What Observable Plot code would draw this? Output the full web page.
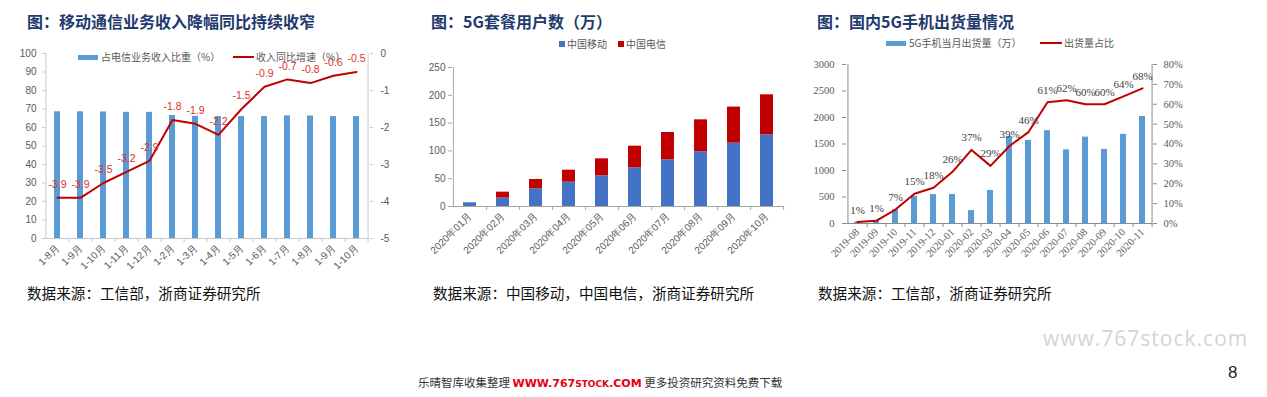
<!DOCTYPE html>
<html><head><meta charset="utf-8">
<script src="https://cdn.jsdelivr.net/npm/d3@7"></script>
<script src="https://cdn.jsdelivr.net/npm/@observablehq/plot@0.6"></script>
<style>
body{margin:0;background:#fff;}
#page{position:relative;width:1267px;height:397px;overflow:hidden;font-family:"Noto Sans CJK SC",sans-serif;background:#fff;}
.abs{position:absolute;white-space:nowrap;line-height:1;}
.title{font-size:16px;font-weight:bold;color:#1F3A6E;}
.src{font-size:14.6px;color:#111;}
.leg{font-size:10px;color:#595959;}
.chart{position:absolute;}
.chart svg{overflow:visible;}
</style></head><body><div id="page"></div>
<script>
// ---------- Chart 1: 移动通信业务收入 ----------
const c1Months = ["1-8月","1-9月","1-10月","1-11月","1-12月","1-2月","1-3月","1-4月","1-5月","1-6月","1-7月","1-8月","1-9月","1-10月"];
const c1Share = [68.5,68.5,68.4,68.2,68.2,66.5,66.0,65.9,65.9,65.9,66.3,66.2,65.9,65.9];
const c1Growth = [-3.9,-3.9,-3.5,-3.2,-2.9,-1.8,-1.9,-2.2,-1.5,-0.9,-0.7,-0.8,-0.6,-0.5];
const c1LeftTicks = [0,10,20,30,40,50,60,70,80,90,100];
const c1RightTicks = [-5,-4,-3,-2,-1,0];
const c1ShareName = "占电信业务收入比重（%）";
const c1GrowthName = "收入同比增速（%）";

// ---------- Chart 2: 5G套餐用户数 ----------
const c2Months = ["2020年01月","2020年02月","2020年03月","2020年04月","2020年05月","2020年06月","2020年07月","2020年08月","2020年09月","2020年10月"];
const c2Mobile = [6.7,15.1,31.8,43.8,55.2,69.5,83.9,98.3,113.9,128.9];
const c2Telecom = [0,10.7,16.8,21.5,30.5,39.0,49.2,57.6,64.9,72.0];
const c2Ticks = [0,50,100,150,200,250];
const c2Series = ["中国移动","中国电信"];

// ---------- Chart 3: 国内5G手机出货量 ----------
const c3Months = ["2019-08","2019-09","2019-10","2019-11","2019-12","2020-01","2020-02","2020-03","2020-04","2020-05","2020-06","2020-07","2020-08","2020-09","2020-10","2020-11"];
const c3Ship = [25,60,260,512,545,546,243,625,1643,1569,1751,1390,1630,1398,1682,2020];
const c3Share = [0.7,1.4,7,15,18,26,37,29,39,46,61,62,60,60,64,68];
const c3LeftTicks = [0,500,1000,1500,2000,2500,3000];
const c3RightTicks = [0,10,20,30,40,50,60,70,80];
const c3ShipName = "5G手机当月出货量（万）";
const c3ShareName = "出货量占比";

const page = document.getElementById("page");
function addDiv(cls, html, left, top, extra) {
  const d = document.createElement("div");
  d.className = "abs " + cls;
  d.innerHTML = html;
  d.style.left = left + "px"; d.style.top = top + "px";
  if (extra) Object.assign(d.style, extra);
  page.appendChild(d);
  return d;
}
function addChart(svg, left, top) {
  const d = document.createElement("div");
  d.className = "chart";
  d.style.left = left + "px"; d.style.top = top + "px";
  d.appendChild(svg);
  page.appendChild(d);
}
function swatch(left, top, w, h, color) {
  const d = document.createElement("div");
  d.className = "abs";
  Object.assign(d.style, {left: left + "px", top: top + "px", width: w + "px", height: h + "px", background: color});
  page.appendChild(d);
}

// ---------------- Chart 1 ----------------
(function(){
  const W = 420, H = 260, ml = 45, mr = 51, mt = 13, mb = 62;
  const n = c1Months.length, step = (W - ml - mr) / n;
  const keys = c1Months.map((d, i) => i);
  const rows = keys.map(i => ({i, share: c1Share[i], growth: c1Growth[i], g: (c1Growth[i] + 5) * 20}));
  const axisC = "#c8c8c8";
  const svg = Plot.plot({
    width: W, height: H, marginLeft: ml, marginRight: mr, marginTop: mt, marginBottom: mb,
    style: {fontFamily: "'Liberation Sans', Arial, sans-serif", fontSize: "10px", color: "#595959", background: "transparent", overflow: "visible"},
    x: {type: "band", domain: keys, paddingInner: 0.72, paddingOuter: 0.36, label: null},
    y: {domain: [0, 100], label: null},
    marks: [
      Plot.barY(rows, {x: "i", y: "share", fill: "#5B9BD5"}),
      Plot.ruleY([0], {stroke: axisC}),
      Plot.ruleX([keys[0]], {dx: -step / 2, stroke: axisC}),
      Plot.ruleX([keys[n - 1]], {dx: step / 2, stroke: axisC}),
      Plot.axisY(c1LeftTicks, {anchor: "left", tickSize: 3, tickPadding: 6, stroke: axisC, label: null}),
      Plot.axisY(c1RightTicks.map(v => (v + 5) * 20), {anchor: "right", tickFormat: d => String(Math.round(d / 20 - 5)), tickSize: 3, tickPadding: 8, stroke: axisC, label: null}),
      Plot.axisX(keys, {tickFormat: i => c1Months[i], tickRotate: -45, tickSize: 0, tickPadding: 8, label: null, fontSize: 10}),
      Plot.axisX(keys, {tickFormat: () => "", tickSize: 4, dx: step / 2, stroke: axisC, label: null}),
      Plot.line(rows, {x: "i", y: "g", stroke: "#C00000", strokeWidth: 2}),
      Plot.text(rows, {x: "i", y: "g", text: d => d.growth.toFixed(1), dy: -13, fill: "#E0302A", fontSize: 10.5})
    ]
  });
  addChart(svg, 0, 40);
  addDiv("title", "图：移动通信业务收入降幅同比持续收窄", 27, 13);
  swatch(78, 55, 20, 5, "#5B9BD5");
  addDiv("leg", c1ShareName, 101, 52);
  swatch(233, 56, 21, 2, "#C00000");
  addDiv("leg", c1GrowthName, 256, 52);
  addDiv("src", "数据来源：工信部，浙商证券研究所", 27, 286);
})();

// ---------------- Chart 2 ----------------
(function(){
  const W = 380, H = 260, ml = 32, mr = 16, mt = 27, mb = 94;
  const n = c2Months.length, step = (W - ml - mr) / n;
  const rows = [];
  c2Months.forEach((m, i) => {
    rows.push({m, s: c2Series[0], v: c2Mobile[i]});
    rows.push({m, s: c2Series[1], v: c2Telecom[i]});
  });
  const axisC = "#a6a6a6";
  const svg = Plot.plot({
    width: W, height: H, marginLeft: ml, marginRight: mr, marginTop: mt, marginBottom: mb,
    style: {fontFamily: "'Liberation Sans', Arial, sans-serif", fontSize: "10px", color: "#595959", background: "transparent", overflow: "visible"},
    x: {type: "band", domain: c2Months, paddingInner: 0.6, paddingOuter: 0.3, label: null},
    y: {domain: [0, 250], label: null},
    color: {domain: c2Series, range: ["#4472C4", "#C00000"]},
    marks: [
      Plot.barY(rows, {x: "m", y: "v", fill: "s"}),
      Plot.ruleY([0], {stroke: axisC}),
      Plot.ruleX([c2Months[0]], {dx: -step / 2, stroke: axisC}),
      Plot.axisY(c2Ticks, {anchor: "left", tickSize: 4, tickPadding: 3, stroke: axisC, label: null}),
      Plot.axisX(c2Months, {tickRotate: -45, tickSize: 0, tickPadding: 8, label: null, fontSize: 10}),
      Plot.axisX(c2Months, {tickFormat: () => "", tickSize: 4, dx: step / 2, stroke: axisC, label: null})
    ]
  });
  addChart(svg, 420, 40);
  addDiv("title", "图：5G套餐用户数（万）", 431, 13);
  swatch(559, 41, 6, 6, "#4472C4");
  addDiv("leg", c2Series[0], 567, 39);
  swatch(618, 41, 6, 6, "#C00000");
  addDiv("leg", c2Series[1], 626, 39);
  addDiv("src", "数据来源：中国移动，中国电信，浙商证券研究所", 433, 286);
})();

// ---------------- Chart 3 ----------------
(function(){
  const W = 420, H = 260, ml = 46, mr = 68, mt = 24, mb = 77;
  const n = c3Months.length, step = (W - ml - mr) / n;
  const k = 3000 / 80;
  const rows = c3Months.map((m, i) => ({m, ship: c3Ship[i], share: c3Share[i], s: c3Share[i] * k}));
  const axisC = "#8c8c8c";
  const svg = Plot.plot({
    width: W, height: H, marginLeft: ml, marginRight: mr, marginTop: mt, marginBottom: mb,
    style: {fontFamily: "'Liberation Serif', 'Times New Roman', serif", fontSize: "10.5px", color: "#595959", background: "transparent", overflow: "visible"},
    x: {type: "band", domain: c3Months, paddingInner: 0.7, paddingOuter: 0.35, label: null},
    y: {domain: [0, 3000], label: null},
    marks: [
      Plot.barY(rows, {x: "m", y: "ship", fill: "#5B9BD5"}),
      Plot.ruleY([0], {stroke: axisC}),
      Plot.ruleX([c3Months[0]], {dx: -step / 2, stroke: axisC}),
      Plot.ruleX([c3Months[n - 1]], {dx: step / 2, stroke: axisC}),
      Plot.axisY(c3LeftTicks, {anchor: "left", tickFormat: d => String(d), tickSize: 4, tickPadding: 8, stroke: axisC, label: null}),
      Plot.axisY(c3RightTicks.map(v => v * k), {anchor: "right", tickFormat: d => Math.round(d / k) + "%", tickSize: 4, tickPadding: 7, stroke: axisC, label: null}),
      Plot.axisX(c3Months, {tickRotate: -45, tickSize: 0, tickPadding: 7, label: null, fontSize: 10.5}),
      Plot.axisX(c3Months, {tickFormat: () => "", tickSize: 4, dx: step / 2, stroke: axisC, label: null}),
      Plot.line(rows, {x: "m", y: "s", stroke: "#C00000", strokeWidth: 2}),
      Plot.text(rows, {x: "m", y: "s", text: d => Math.round(d.share) + "%", dy: -12, fill: "#404040", fontSize: 11})
    ]
  });
  addChart(svg, 800, 40);
  addDiv("title", "图：国内5G手机出货量情况", 817, 13);
  swatch(886, 41, 20, 5, "#5B9BD5");
  addDiv("leg", c3ShipName, 909, 38);
  swatch(1040, 42, 22, 2, "#C00000");
  addDiv("leg", c3ShareName, 1064, 38);
  addDiv("src", "数据来源：工信部，浙商证券研究所", 818, 286);
})();

// ---------------- Page decorations ----------------
addDiv("", "www.767stock.com", 1043, 328, {fontFamily: "'Open Sans', sans-serif", fontSize: "21px", color: "#d4d4d4", letterSpacing: "1px"});
addDiv("", "8", 1228, 364, {fontFamily: "'Liberation Sans', sans-serif", fontSize: "17px", color: "#222"});
addDiv("", '<span style="color:#333">乐晴智库收集整理 </span><span style="color:#E60012;font-weight:bold;font-family:\'DejaVu Sans\',sans-serif;font-size:11px">WWW.767<span style="font-size:9px">STOCK</span>.COM</span><span style="color:#333"> 更多投资研究资料免费下载</span>', 418, 377, {fontSize: "11.5px"});
</script>
</body></html>
